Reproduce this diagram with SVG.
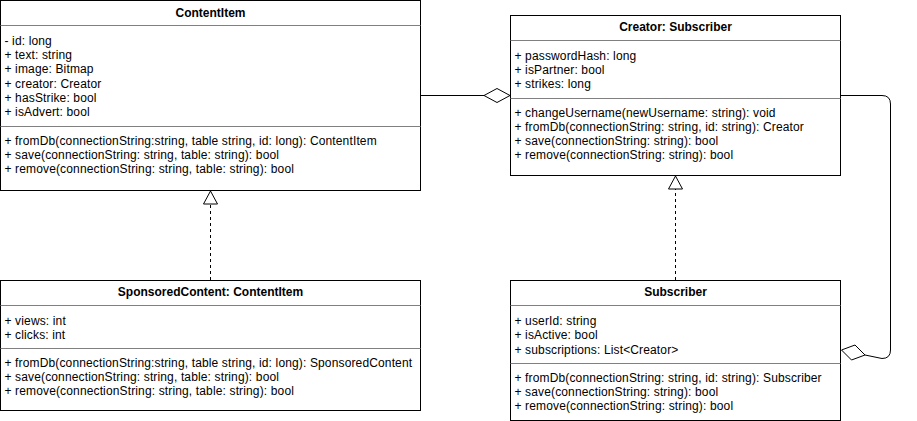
<svg xmlns="http://www.w3.org/2000/svg" width="917" height="421" viewBox="0 0 917 421">
<style>
.box{fill:#ffffff;stroke:#000000;stroke-width:1}
.div{stroke:#808080;stroke-width:1}
.t{font-family:"Liberation Sans",Arial,sans-serif;font-size:12px;letter-spacing:0.14px;fill:#000000}
.h{font-family:"Liberation Sans",Arial,sans-serif;font-size:12px;font-weight:bold;fill:#000000;text-anchor:middle}
.ln{fill:none;stroke:#000000;stroke-width:1}
.dash{fill:none;stroke:#000000;stroke-width:1;stroke-dasharray:3 3}
.head{fill:#ffffff;stroke:#000000;stroke-width:1}
</style>
<rect width="917" height="421" fill="#ffffff"/>
<g id="connectors">
<path class="ln" d="M420.5,95.5 H484"/>
<polygon class="head" points="484,95.5 497,88.5 510,95.5 497,102.5"/>
<path class="dash" d="M210.5,280 V204"/>
<polygon class="head" points="210.5,191 203.5,204 217.5,204"/>
<path class="dash" d="M675.5,280 V189"/>
<polygon class="head" points="675.5,176 668.5,189 682.5,189"/>
<path class="ln" d="M840.5,95.5 H882 Q890.5,95.5 890.5,104 V350 Q890.5,358.5 882,358.5 L865,355"/>
<polygon class="head" points="841.5,350 855,345 865,355 851.5,360"/>
</g>
<g id="ContentItem">
<rect class="box" x="0.5" y="0.5" width="420" height="190"/>
<line class="div" x1="0.5" y1="25.5" x2="420.5" y2="25.5"/>
<line class="div" x1="0.5" y1="126.5" x2="420.5" y2="126.5"/>
<text class="h" x="210.5" y="17">ContentItem</text>
<text class="t" x="4.5" y="44.7">- id: long</text>
<text class="t" x="4.5" y="59">+ text: string</text>
<text class="t" x="4.5" y="73.3">+ image: Bitmap</text>
<text class="t" x="4.5" y="87.6">+ creator: Creator</text>
<text class="t" x="4.5" y="101.9">+ hasStrike: bool</text>
<text class="t" x="4.5" y="116.2">+ isAdvert: bool</text>
<text class="t" x="4.5" y="144.7">+ fromDb(connectionString:string, table string, id: long): ContentItem</text>
<text class="t" x="4.5" y="159">+ save(connectionString: string, table: string): bool</text>
<text class="t" x="4.5" y="173.3">+ remove(connectionString: string, table: string): bool</text>
</g>
<g id="Creator">
<rect class="box" x="510.5" y="15.5" width="330" height="160"/>
<line class="div" x1="510.5" y1="40.5" x2="840.5" y2="40.5"/>
<line class="div" x1="510.5" y1="98.5" x2="840.5" y2="98.5"/>
<text class="h" x="675.5" y="31">Creator: Subscriber</text>
<text class="t" x="514.5" y="59.5">+ passwordHash: long</text>
<text class="t" x="514.5" y="73.7">+ isPartner: bool</text>
<text class="t" x="514.5" y="87.9">+ strikes: long</text>
<text class="t" x="514.5" y="116.7">+ changeUsername(newUsername: string): void</text>
<text class="t" x="514.5" y="130.9">+ fromDb(connectionString: string, id: string): Creator</text>
<text class="t" x="514.5" y="145.1">+ save(connectionString: string): bool</text>
<text class="t" x="514.5" y="159.3">+ remove(connectionString: string): bool</text>
</g>
<g id="SponsoredContent">
<rect class="box" x="0.5" y="280.5" width="420" height="130"/>
<line class="div" x1="0.5" y1="305.5" x2="420.5" y2="305.5"/>
<line class="div" x1="0.5" y1="348.5" x2="420.5" y2="348.5"/>
<text class="h" x="210.5" y="296">SponsoredContent: ContentItem</text>
<text class="t" x="4.5" y="324.7">+ views: int</text>
<text class="t" x="4.5" y="339">+ clicks: int</text>
<text class="t" x="4.5" y="366.7">+ fromDb(connectionString:string, table string, id: long): SponsoredContent</text>
<text class="t" x="4.5" y="381">+ save(connectionString: string, table: string): bool</text>
<text class="t" x="4.5" y="395.3">+ remove(connectionString: string, table: string): bool</text>
</g>
<g id="Subscriber">
<rect class="box" x="510.5" y="280.5" width="330" height="140"/>
<line class="div" x1="510.5" y1="305.5" x2="840.5" y2="305.5"/>
<line class="div" x1="510.5" y1="363.5" x2="840.5" y2="363.5"/>
<text class="h" x="675.5" y="296">Subscriber</text>
<text class="t" x="514.5" y="325">+ userId: string</text>
<text class="t" x="514.5" y="339.3">+ isActive: bool</text>
<text class="t" x="514.5" y="353.6">+ subscriptions: List&lt;Creator&gt;</text>
<text class="t" x="514.5" y="381.7">+ fromDb(connectionString: string, id: string): Subscriber</text>
<text class="t" x="514.5" y="396">+ save(connectionString: string): bool</text>
<text class="t" x="514.5" y="410.3">+ remove(connectionString: string): bool</text>
</g>
</svg>
